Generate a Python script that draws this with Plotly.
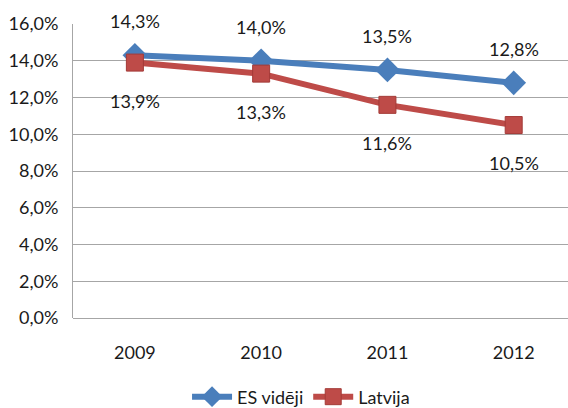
import plotly.graph_objects as go

years = ["2009", "2010", "2011", "2012"]
es_avg = [14.3, 14.0, 13.5, 12.8]
latvia = [13.9, 13.3, 11.6, 10.5]
y_ticks = [0, 2, 4, 6, 8, 10, 12, 14, 16]
y_tick_text = ["0,0%", "2,0%", "4,0%", "6,0%", "8,0%", "10,0%", "12,0%", "14,0%", "16,0%"]

FONT = "Lato, sans-serif"
BLUE = "#4A7EBB"
RED = "#BE4B48"
TEXT = "#1a1a1a"


def pct(v):
    return f"{v:.1f}".replace(".", ",") + "%"


fig = go.Figure()
fig.add_trace(go.Scatter(
    x=years, y=es_avg, name="ES vidēji", mode="lines+markers",
    line=dict(color=BLUE, width=6),
    marker=dict(symbol="diamond", size=19, color=BLUE),
))
fig.add_trace(go.Scatter(
    x=years, y=latvia, name="Latvija", mode="lines+markers",
    line=dict(color=RED, width=6),
    marker=dict(symbol="square", size=17, color=RED,
                line=dict(color="#A33A37", width=1)),
))

# value labels: EU average above its points, Latvia below
# (annotations addressed by category index)
for i, v in enumerate(es_avg):
    fig.add_annotation(x=i, y=v, xref="x", yref="y", text=pct(v),
                       showarrow=False, yshift=34,
                       font=dict(family=FONT, size=18, color=TEXT))
for i, v in enumerate(latvia):
    fig.add_annotation(x=i, y=v, xref="x", yref="y", text=pct(v),
                       showarrow=False, yshift=-38,
                       font=dict(family=FONT, size=18, color=TEXT))

fig.update_layout(
    width=568, height=408,
    margin=dict(l=73, r=0, t=24, b=90),
    paper_bgcolor="white", plot_bgcolor="white",
    font=dict(family=FONT, size=18, color=TEXT),
    showlegend=True,
    legend=dict(orientation="h", xref="container", yref="container",
                x=0.53, y=0.027, xanchor="center", yanchor="middle",
                font=dict(family=FONT, size=18, color=TEXT),
                itemwidth=40, tracegroupgap=0),
    xaxis=dict(type="category", range=[-0.49, 3.43], showgrid=False,
               showline=False, zeroline=False, ticks="",
               ticklabelstandoff=22, tickfont=dict(size=18)),
    yaxis=dict(range=[0, 16], tickvals=y_ticks, ticktext=y_tick_text,
               showgrid=True, gridcolor="#A6A6A6", gridwidth=1,
               showline=True, linecolor="#A6A6A6", linewidth=1,
               zeroline=True, zerolinecolor="#A6A6A6", zerolinewidth=1,
               ticks="", ticklabelstandoff=10, tickfont=dict(size=18)),
)

fig.write_html("out.html")
